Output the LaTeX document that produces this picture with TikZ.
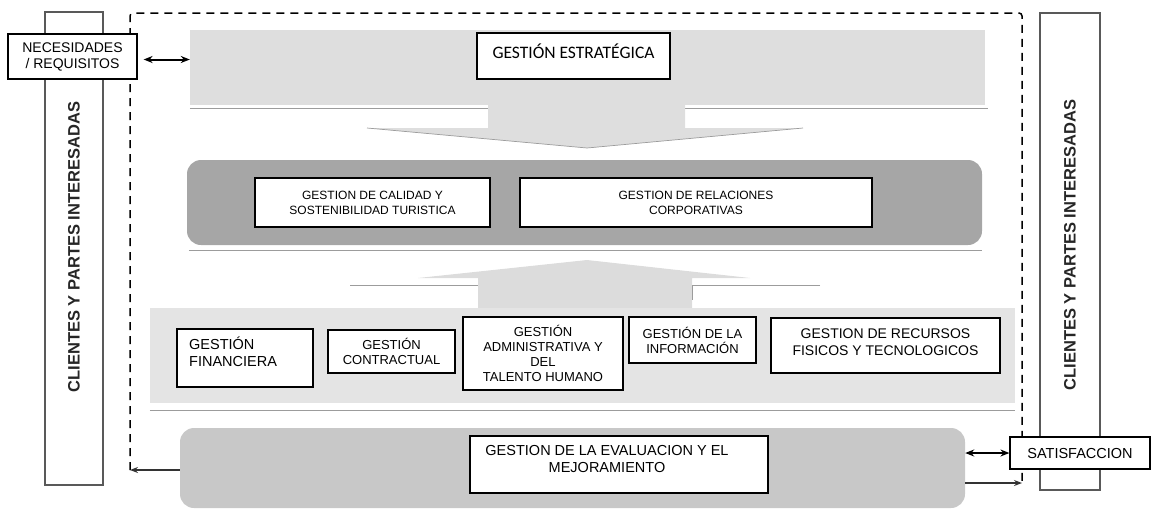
\documentclass[tikz,border=0pt]{standalone}
\usepackage{fontspec}
\setmainfont{Liberation Sans}
\newfontfamily\calibrifont{Carlito}
\usetikzlibrary{arrows.meta}
\definecolor{bandgray}{HTML}{DEDEDE}
\definecolor{midgray}{HTML}{A6A6A6}
\definecolor{lowgray}{HTML}{E4E4E4}
\definecolor{evalgray}{HTML}{C8C8C8}
\definecolor{arrgray}{HTML}{DCDCDC}
\definecolor{shadowline}{HTML}{9C9C9C}
\begin{document}
\begin{tikzpicture}[x=1pt,y=-1pt,
  wbox/.style={draw=black, line width=1.2pt, fill=white, inner sep=0pt},
  lbl/.style={inner sep=0pt, align=center, font=\fontsize{12}{15}\selectfont},
  lblb/.style={inner sep=0pt, align=center, font=\fontsize{13}{15}\selectfont},
  tallbox/.style={draw=black!65, line width=1.5pt, fill=white, inner sep=0pt},
  sidetext/.style={rotate=90, inner sep=0pt, font=\bfseries\fontsize{16.5}{18}\selectfont, text=black!85},
  frame/.style={line width=1.5pt, dash pattern=on 8pt off 6pt},
  dbl/.style={{Stealth[length=9pt,width=7pt]}-{Stealth[length=9pt,width=7pt]}, line width=2pt},
  sarrow/.style={-{Stealth[length=8pt,width=6pt]}, line width=1.6pt, draw=black!80},
  shline/.style={draw=shadowline, line width=0.7pt},
  block/.style={inner sep=0pt, draw=none}
]
\useasboundingbox (0,0) rectangle (1151,512);

% dashed frame
\coordinate (fbl) at (130,470);
\coordinate (ftl) at (130,13);
\coordinate (ftr) at (1022,13);
\coordinate (fbr) at (1022,483);
\draw[frame, rounded corners=3pt] (fbl) -- (ftl) -- (ftr) -- (fbr);

% side boxes
\node[tallbox, minimum width=58, minimum height=473] (ltall) at (74,248.5) {};
\node[sidetext] (ltxt) at (74,247) {CLIENTES Y PARTES INTERESADAS};
\node[tallbox, minimum width=60, minimum height=477] (rtall) at (1070,251.5) {};
\node[sidetext] (rtxt) at (1070,245) {CLIENTES Y PARTES INTERESADAS};

% top band and down arrow
\node[block, fill=bandgray, minimum width=795, minimum height=75] (band) at (587.5,67.5) {};
\draw[shline] (band.south west) ++(0,3) -- ++(798,0);
\fill[bandgray] (488,104) -- (685,104) -- (685,128) -- (803,128) -- (587,148) -- (367,128) -- (488,128) -- cycle;
\draw[shline] (367,128) -- (587,148) -- (803,128);
\node[wbox, minimum width=193, minimum height=46] (estr) at (573.5,56) {};
\node[inner sep=0pt, font=\calibrifont\fontsize{17.5}{19}\selectfont] (estrt) at (573.5,51) {GESTIÓN ESTRATÉGICA};

% necesidades
\node[wbox, minimum width=129, minimum height=45, lbl, font=\fontsize{14}{16}\selectfont] (nec) at (72.5,56.5) {NECESIDADES\\/ REQUISITOS};
\draw[dbl] (nec.east) ++(6,3) coordinate (na) -- (band.west |- na);

% middle block
\node[block, fill=midgray, rounded corners=14pt, minimum width=795, minimum height=85] (mid) at (584.5,202.5) {};
\draw[shline] (mid.south west) ++(2,5) -- ++(793,0);
\node[wbox, minimum width=235, minimum height=49, lbl] (cal) at (372.5,202.5) {GESTION DE CALIDAD Y\\SOSTENIBILIDAD TURISTICA};
\node[wbox, minimum width=352, minimum height=49, lbl] (rel) at (696,202.5) {GESTION DE RELACIONES\\CORPORATIVAS};

% up arrow
\fill[arrgray] (478,309) -- (478,278) -- (418,278) -- (587,260) -- (750,278) -- (692,278) -- (692,309) -- cycle;
\draw[shline] (350,285) -- (478,285);
\draw[shline] (820,285) -- (692,285) -- (692,300);

% bottom container
\node[block, fill=lowgray, minimum width=865, minimum height=95] (low) at (582.5,355.5) {};
\draw[shline] (low.south west) ++(0,7) -- ++(865,0);

\node[wbox, minimum width=136, minimum height=58] (fin) at (245,358) {};
\node[lblb, align=left, anchor=north west, font=\fontsize{14.5}{17}\selectfont] (fint) at (189,337) {GESTIÓN\\FINANCIERA};
\node[wbox, minimum width=127, minimum height=43, lblb] (con) at (391.5,351.5) {GESTIÓN\\CONTRACTUAL};
\node[wbox, minimum width=160, minimum height=73, lblb] (adm) at (543,353.5) {GESTIÓN\\ADMINISTRATIVA Y\\DEL\\TALENTO HUMANO};
\node[wbox, minimum width=127, minimum height=46, lblb] (inf) at (692.5,340) {GESTIÓN DE LA\\INFORMACIÓN};
\node[wbox, minimum width=229, minimum height=55] (rec) at (885.5,345.5) {};
\node[lblb, font=\fontsize{14}{17}\selectfont] (rect) at (885.5,342) {GESTION DE RECURSOS\\FISICOS Y TECNOLOGICOS};

% evaluation block
\node[block, fill=evalgray, rounded corners=14pt, minimum width=785, minimum height=80] (eval) at (572.5,468) {};
\node[wbox, minimum width=298, minimum height=57] (evb) at (619,464.5) {};
\node[lblb, font=\fontsize{14.5}{17}\selectfont] (evt) at (607,459) {GESTION DE LA EVALUACION Y EL\\MEJORAMIENTO};

% satisfaccion
\node[wbox, minimum width=140, minimum height=32, font=\fontsize{14.5}{16}\selectfont] (sat) at (1080,453) {SATISFACCION};
\draw[dbl] (eval.east |- sat.west) -- (sat.west);

% feedback arrows to dashed frame
\draw[sarrow] (eval.west |- fbl) -- (fbl);
\draw[sarrow] (eval.east |- fbr) -- (fbr);

\end{tikzpicture}
\end{document}
